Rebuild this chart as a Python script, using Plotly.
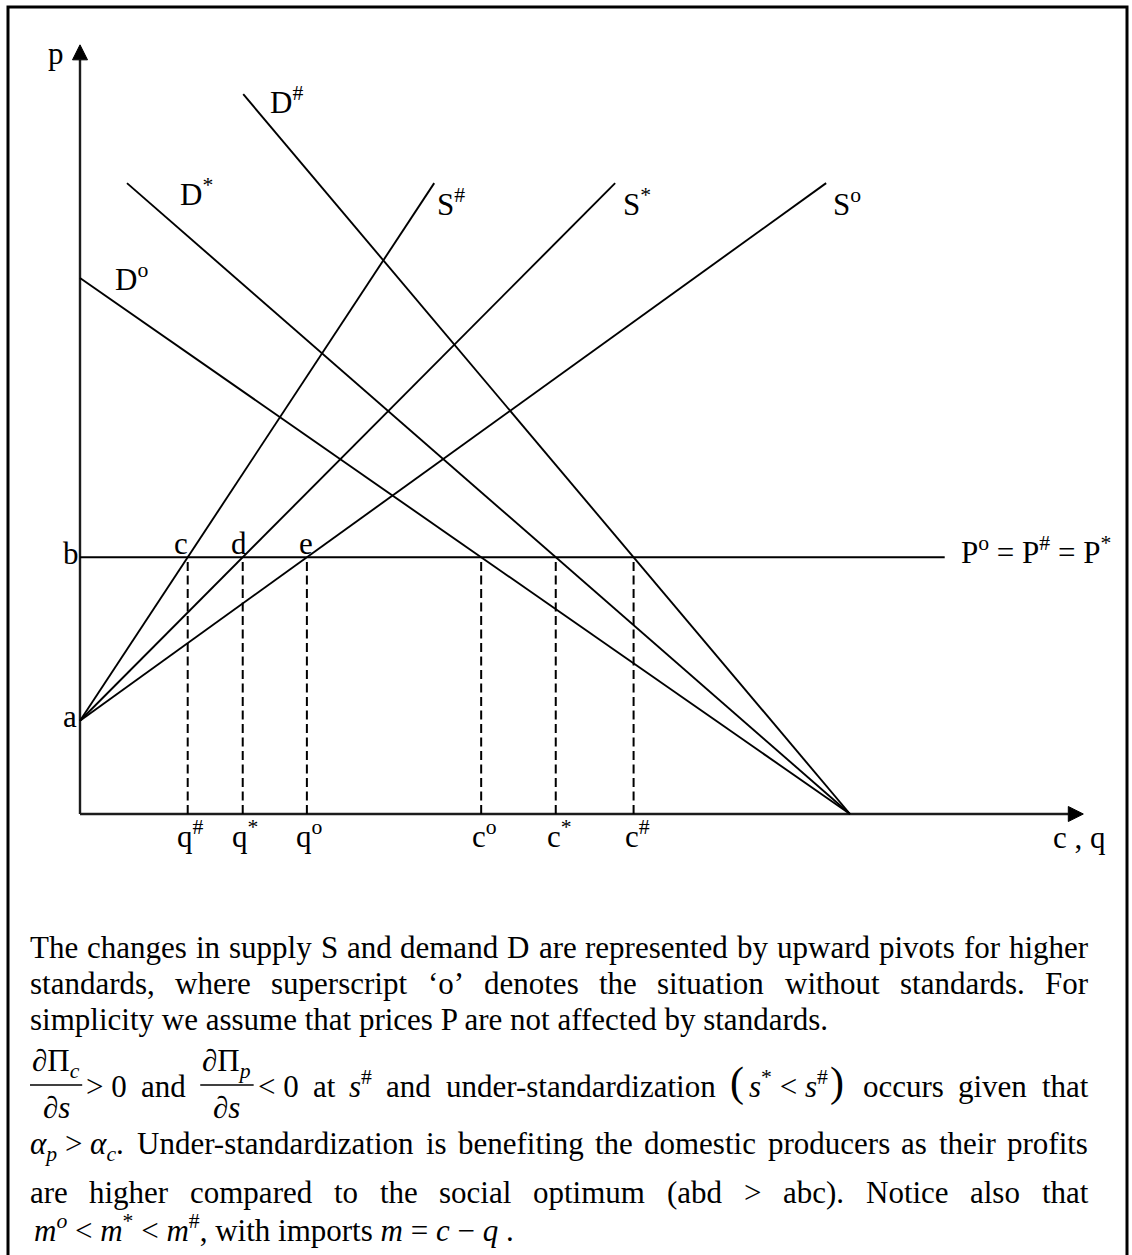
import re
import plotly.graph_objects as go

# ---------------- model values (quantity on x, price on y) ----------------
PIVOT_Q = 10.0          # every demand curve reaches the quantity axis here
A_LEVEL = 1.74          # price intercept 'a' shared by all supply curves
B_LEVEL = 4.79          # world price b : P° = P# = P*
SUPPLY_TOP_P = 11.77    # price at which the supply curves stop

curve_tags = ["#", "*", "o"]
supply_top_q = [4.60, 6.95, 9.69]
demand_top_q = [2.12, 0.61, 0.00]
demand_top_p = [13.43, 11.77, 10.00]

X_AXIS_END = 13.03
Y_AXIS_END = 14.35
PRICE_LINE_END = 11.23

# ---------------- page geometry ----------------
W, H = 1132, 1255
ORIGIN = (80, 814)                 # pixel position of the (0, 0) corner
PX_PER_Q, PX_PER_P = 77.0, 53.6
x_range = [-ORIGIN[0] / PX_PER_Q, (W - ORIGIN[0]) / PX_PER_Q]
y_range = [-(H - ORIGIN[1]) / PX_PER_P, ORIGIN[1] / PX_PER_P]

FONT = "Liberation Serif, 'Times New Roman', Times, serif"
SIZE = 31
INK = "black"
AXIS_INK = "#1c1c1c"

fig = go.Figure()


def seg(xs, ys, width=1.9, dash=None, color=INK):
    fig.add_trace(go.Scatter(x=xs, y=ys, mode="lines",
                             line=dict(color=color, width=width, dash=dash),
                             hoverinfo="skip", showlegend=False))


def head(xs, ys):
    fig.add_trace(go.Scatter(x=xs, y=ys, mode="lines", fill="toself",
                             fillcolor=INK, line=dict(color=INK, width=1),
                             hoverinfo="skip", showlegend=False))


# axes with arrow heads
ARROW_LEN, ARROW_HALF = 15, 7.5
xl, xh = ARROW_LEN / PX_PER_Q, ARROW_HALF / PX_PER_P
yl, yh = ARROW_LEN / PX_PER_P, ARROW_HALF / PX_PER_Q
seg([0, X_AXIS_END - xl], [0, 0], width=2.6, color=AXIS_INK)
head([X_AXIS_END, X_AXIS_END - xl, X_AXIS_END - xl, X_AXIS_END], [0, xh, -xh, 0])
seg([0, 0], [0, Y_AXIS_END - yl], width=2.4, color=AXIS_INK)
head([0, yh, -yh, 0], [Y_AXIS_END, Y_AXIS_END - yl, Y_AXIS_END - yl, Y_AXIS_END])

# world price line
seg([0, PRICE_LINE_END], [B_LEVEL, B_LEVEL], width=2.0)

# supply curves pivot around a, demand curves around the common quantity intercept
q_at_b, c_at_b = [], []
for tq in supply_top_q:
    seg([0, tq], [A_LEVEL, SUPPLY_TOP_P])
    q_at_b.append(tq * (B_LEVEL - A_LEVEL) / (SUPPLY_TOP_P - A_LEVEL))
for tq, tp in zip(demand_top_q, demand_top_p):
    seg([tq, PIVOT_Q], [tp, 0])
    c_at_b.append(tq + (tp - B_LEVEL) / tp * (PIVOT_Q - tq))

# dashed drop lines from the price line to the quantity axis
for v in q_at_b + c_at_b:
    seg([v, v], [0, B_LEVEL], width=2.0, dash="9px,4.5px")

annotations = []


def label(x, y, text, dx=0, dy=0, xref="x", yref="y", anchor="left", size=SIZE):
    annotations.append(dict(x=x, y=y, xref=xref, yref=yref, text=text,
                            xshift=dx, yshift=dy, xanchor=anchor, yanchor="middle",
                            showarrow=False, borderpad=0, borderwidth=0,
                            font=dict(family=FONT, size=size, color=INK)))


def sup(t):
    return f"<sup>{t}</sup>"


# curve names
d_offsets = [(27, -6), (53, -9), (35, 0.5)]
for tag, tq, tp, (dx, dy) in zip(curve_tags, demand_top_q, demand_top_p, d_offsets):
    label(tq, tp, "D" + sup(tag), dx, dy)
s_offsets = [(3, -19), (8, -19), (7, -19)]
for tag, tq, (dx, dy) in zip(curve_tags, supply_top_q, s_offsets):
    label(tq, SUPPLY_TOP_P, "S" + sup(tag), dx, dy)

# intersection points on the price line
for name, v, dx in zip(["c", "d", "e"], q_at_b, [-14, -12, -8]):
    label(v, B_LEVEL, name, dx, 13.5)

# quantity marks on the axis
for tag, v in zip(curve_tags, q_at_b):
    label(v, 0, "q" + sup(tag), -11, -20.5)
for tag, v in zip(curve_tags, c_at_b):
    label(v, 0, "c" + sup(tag), -9, -20.5)

# axis and level names
label(0, Y_AXIS_END, "p", -32, -8.6)
label(0, B_LEVEL, "b", -17, 3.5)
label(0, A_LEVEL, "a", -17, 4)
label(X_AXIS_END, 0, "c , q", -30, -23.5)
label(PRICE_LINE_END, B_LEVEL, "P" + sup("o") + " = P" + sup("#") + " = P" + sup("*"), 16, 6.5)

# ---------------- caption below the diagram ----------------
GLYPH = {' ': 250, '!': 333, '#': 500, '(': 333, ')': 333, '*': 500, '+': 564,
         ',': 250, '-': 333, '.': 250, '/': 278, ':': 278, ';': 278, '<': 564,
         '=': 564, '>': 564, '?': 444, 'A': 722, 'B': 667, 'C': 667, 'D': 722,
         'E': 611, 'F': 556, 'G': 722, 'H': 722, 'I': 333, 'J': 389, 'K': 722,
         'L': 611, 'M': 889, 'N': 722, 'O': 722, 'P': 556, 'Q': 722, 'R': 667,
         'S': 556, 'T': 611, 'U': 722, 'V': 722, 'W': 944, 'X': 722, 'Y': 722,
         'Z': 611, 'a': 444, 'b': 500, 'c': 444, 'd': 500, 'e': 444, 'f': 333,
         'g': 500, 'h': 500, 'i': 278, 'j': 278, 'k': 500, 'l': 278, 'm': 778,
         'n': 500, 'o': 500, 'p': 500, 'q': 500, 'r': 333, 's': 389, 't': 278,
         'u': 500, 'v': 500, 'w': 722, 'x': 500, 'y': 500, 'z': 444, '‘': 333,
         '’': 333, '−': 564, 'α': 550, 'Π': 750, '∂': 494}
for d in "0123456789":
    GLYPH[d] = 500


def text_px(html, size=SIZE):
    total, scale = 0.0, 1.0
    for tok in re.split(r"(<[^>]+>)", html):
        if tok.startswith("<"):
            t = tok.lower()
            if t in ("<sup>", "<sub>"):
                scale = 0.7
            elif t in ("</sup>", "</sub>"):
                scale = 1.0
            continue
        tok = tok.replace("&lt;", "<").replace("&gt;", ">")
        total += sum(GLYPH.get(ch, 500) for ch in tok) * scale
    return total * size / 1000


def px(xp, yp):
    return xp / W, 1 - yp / H


def script_shift(text):
    return 2 if "<sup>" in text else (-2 if "<sub>" in text else 0)


def put(xp, yp, text, anchor="left", size=SIZE, dy=None):
    x, y = px(xp, yp)
    label(x, y, text, 0, script_shift(text) if dy is None else dy,
          xref="paper", yref="paper", anchor=anchor, size=size)


shapes = []
TEXT_LEFT, TEXT_RIGHT = 30, 1088


def word(text, yp):
    return text_px(text), lambda x: put(x, yp, text)


def justify(items):
    gap = (TEXT_RIGHT - TEXT_LEFT - sum(w for w, _ in items)) / (len(items) - 1)
    x = TEXT_LEFT
    for w, draw in items:
        draw(x)
        x += w + gap


def justified(words, yp):
    justify([word(w, yp) for w in words])


line1 = "The changes in supply S and demand D are represented by upward pivots for higher"
line2 = "standards, where superscript ‘o’ denotes the situation without standards. For"
line3 = "simplicity we assume that prices P are not affected by standards."
line5 = ["<i>α</i><sub><i>p</i></sub> &gt; <i>α</i><sub><i>c</i></sub>."] + \
        "Under-standardization is benefiting the domestic producers as their profits".split()
line6 = "are higher compared to the social optimum (abd &gt; abc). Notice also that"
line7 = ("<i>m</i><sup><i>o</i></sup> &lt; <i>m</i><sup>*</sup> &lt; <i>m</i><sup>#</sup>, "
         "with imports <i>m</i> = <i>c</i> − <i>q</i> .")

justified(line1.split(), 947.5)
justified(line2.split(), 983.5)
put(TEXT_LEFT, 1019.5, line3)

# line with the two partial derivatives
MAIN_Y, NUM_Y, DEN_Y, BAR_Y = 1086, 1061, 1107, 1085
PAREN_SIZE = 42


def fraction(sub, relation):
    num = f"∂Π<sub><i>{sub}</i></sub>"
    bar = text_px(num) + 4
    width = bar + 4 + text_px(relation)

    def draw(x):
        cx = x + bar / 2
        put(cx, NUM_Y, num, anchor="center")
        put(cx, DEN_Y, "∂<i>s</i>", anchor="center")
        (bx0, by), (bx1, _) = px(x, BAR_Y), px(x + bar, BAR_Y)
        shapes.append(dict(type="line", xref="paper", yref="paper", x0=bx0, x1=bx1,
                           y0=by, y1=by, line=dict(color=INK, width=1.4)))
        put(x + bar + 4, MAIN_Y, relation)
    return width, draw


def bracketed(inner):
    pw = text_px("(", PAREN_SIZE)
    iw = text_px(inner)
    width = 2 * pw + iw + 12

    def draw(x):
        put(x, MAIN_Y - 4, "(", size=PAREN_SIZE, dy=0)
        put(x + pw + 5, MAIN_Y, inner)
        put(x + pw + iw + 7, MAIN_Y - 4, ")", size=PAREN_SIZE, dy=0)
    return width, draw


justify([
    fraction("c", "&gt; 0"),
    word("and", MAIN_Y),
    fraction("p", "&lt; 0"),
    word("at", MAIN_Y),
    word("<i>s</i><sup>#</sup>", MAIN_Y),
    word("and", MAIN_Y),
    word("under-standardization", MAIN_Y),
    bracketed("<i>s</i><sup>*</sup> &lt; <i>s</i><sup>#</sup>"),
    word("occurs", MAIN_Y),
    word("given", MAIN_Y),
    word("that", MAIN_Y),
])

justified(line5, 1143.5)
justified(line6.split(), 1192.5)
put(34, 1230.5, line7)

# page frame
fx0, fy0 = px(8, 7)
fx1, fy1 = px(1127, 1262)
shapes.append(dict(type="rect", xref="paper", yref="paper", x0=fx0, x1=fx1,
                   y0=fy1, y1=fy0, line=dict(color=INK, width=3)))

fig.update_layout(
    width=W, height=H, autosize=False,
    margin=dict(l=0, r=0, t=0, b=0, pad=0),
    paper_bgcolor="white", plot_bgcolor="white",
    xaxis=dict(range=x_range, visible=False, fixedrange=True),
    yaxis=dict(range=y_range, visible=False, fixedrange=True),
    showlegend=False,
    annotations=annotations,
    shapes=shapes,
    font=dict(family=FONT, size=SIZE, color=INK),
)

fig.write_html("out.html", config={"displayModeBar": False})
